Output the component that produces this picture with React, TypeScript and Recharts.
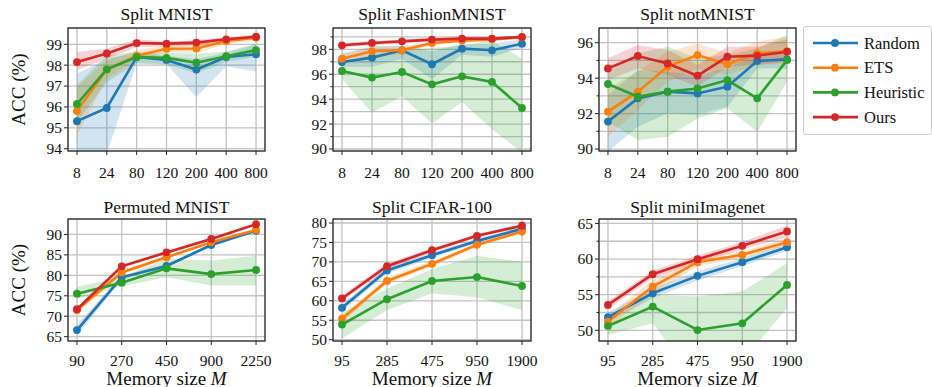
import React from 'react';
import { ComposedChart, Line, Area, XAxis, YAxis, CartesianGrid } from 'recharts';

const FONT = '"Liberation Serif", "Times New Roman", "DejaVu Serif", serif';

// memory sizes (x categories)
const smallMem = ['8', '24', '80', '120', '200', '400', '800'];
const permMem = ['90', '270', '450', '900', '2250'];
const largeMem = ['95', '285', '475', '950', '1900'];

// Split MNIST
const mnistRandom = [95.32, 95.95, 98.39, 98.25, 97.79, 98.39, 98.52];
const mnistRandomLo = [93.0, 93.75, 98.1, 98.05, 96.48, 97.95, 97.7];
const mnistRandomHi = [97.6, 98.3, 98.6, 98.45, 98.3, 98.6, 99.0];
const mnistEts = [95.81, 97.79, 98.45, 98.79, 98.8, 99.16, 99.32];
const mnistEtsLo = [94.65, 97.36, 98.2, 98.6, 98.6, 99.0, 99.18];
const mnistEtsHi = [96.96, 98.23, 98.7, 98.95, 99.0, 99.3, 99.45];
const mnistHeur = [96.14, 97.8, 98.39, 98.35, 98.12, 98.43, 98.72];
const mnistHeurLo = [95.28, 97.2, 98.07, 98.03, 97.6, 98.15, 98.4];
const mnistHeurHi = [97.04, 98.47, 98.63, 98.6, 98.55, 98.66, 99.03];
const mnistOurs = [98.15, 98.56, 99.06, 99.03, 99.08, 99.24, 99.36];
const mnistOursLo = [97.76, 98.3, 98.87, 98.9, 98.95, 99.12, 99.25];
const mnistOursHi = [98.63, 98.8, 99.24, 99.15, 99.2, 99.35, 99.47];

// Split FashionMNIST
const fashionRandom = [96.98, 97.33, 97.92, 96.8, 98.05, 97.92, 98.45];
const fashionRandomLo = [96.58, 96.6, 97.25, 95.6, 97.57, 97.4, 98.1];
const fashionRandomHi = [97.65, 98.2, 98.3, 97.84, 98.45, 98.45, 98.8];
const fashionEts = [97.25, 97.84, 97.92, 98.51, 98.7, 98.8, 98.96];
const fashionEtsLo = [96.85, 97.45, 97.6, 98.35, 98.55, 98.65, 98.82];
const fashionEtsHi = [97.65, 98.25, 98.25, 98.67, 98.85, 98.95, 99.1];
const fashionHeur = [96.26, 95.73, 96.18, 95.19, 95.83, 95.38, 93.29];
const fashionHeurLo = [95.6, 92.9, 94.23, 92.04, 93.78, 91.6, 89.7];
const fashionHeurHi = [96.85, 97.6, 97.9, 98.1, 98.3, 98.7, 97.25];
const fashionOurs = [98.32, 98.51, 98.64, 98.78, 98.86, 98.86, 98.99];
const fashionOursLo = [98.15, 98.35, 98.5, 98.65, 98.75, 98.75, 98.88];
const fashionOursHi = [98.5, 98.67, 98.78, 98.9, 98.97, 98.97, 99.1];

// Split notMNIST
const notRandom = [91.55, 92.86, 93.24, 93.14, 93.52, 94.97, 95.06];
const notRandomLo = [89.85, 91.26, 92.02, 91.92, 92.39, 94.55, 94.55];
const notRandomHi = [93.05, 94.46, 94.36, 94.18, 94.55, 95.4, 95.49];
const notEts = [92.11, 93.24, 94.65, 95.3, 94.78, 95.4, 95.53];
const notEtsLo = [90.7, 92.2, 93.8, 94.55, 94.18, 94.74, 94.83];
const notEtsHi = [93.42, 94.36, 95.5, 95.96, 95.4, 96.06, 96.34];
const notHeur = [93.67, 92.95, 93.24, 93.42, 93.89, 92.86, 95.02];
const notHeurLo = [91.55, 90.51, 90.7, 91.73, 92.3, 90.98, 93.8];
const notHeurHi = [94.46, 95.4, 95.77, 95.12, 95.3, 95.68, 96.43];
const notOurs = [94.55, 95.25, 94.83, 94.14, 95.21, 95.27, 95.49];
const notOursLo = [93.9, 94.55, 94.18, 93.52, 94.65, 94.74, 94.93];
const notOursHi = [95.12, 95.87, 95.59, 94.74, 95.77, 95.77, 96.2];

// Permuted MNIST
const permRandom = [66.6, 79.5, 82.3, 87.4, 90.9];
const permRandomLo = [65.3, 79.0, 81.9, 87.0, 90.6];
const permRandomHi = [68.0, 80.0, 82.7, 87.8, 91.2];
const permEts = [71.5, 80.7, 84.4, 88.1, 91.1];
const permEtsLo = [70.9, 80.2, 84.0, 87.8, 90.8];
const permEtsHi = [72.2, 81.2, 84.8, 88.4, 91.4];
const permHeur = [75.5, 78.2, 81.7, 80.3, 81.3];
const permHeurLo = [74.2, 77.3, 79.5, 77.5, 77.5];
const permHeurHi = [77.2, 79.6, 84.0, 83.6, 84.8];
const permOurs = [71.7, 82.2, 85.6, 88.9, 92.5];
const permOursLo = [71.2, 81.8, 85.2, 88.6, 92.2];
const permOursHi = [72.2, 82.6, 86.0, 89.2, 92.8];

// Split CIFAR-100
const cifarRandom = [58.2, 67.8, 71.7, 75.4, 78.5];
const cifarRandomLo = [57.3, 67.0, 71.0, 74.8, 78.0];
const cifarRandomHi = [59.1, 68.6, 72.4, 76.0, 79.0];
const cifarEts = [55.4, 65.1, 69.5, 74.4, 77.8];
const cifarEtsLo = [54.5, 64.3, 68.8, 73.8, 77.3];
const cifarEtsHi = [56.3, 65.9, 70.2, 75.0, 78.3];
const cifarHeur = [53.9, 60.4, 65.1, 66.1, 63.8];
const cifarHeurLo = [50.3, 57.6, 61.9, 60.9, 57.6];
const cifarHeurHi = [56.8, 63.1, 68.2, 71.6, 70.1];
const cifarOurs = [60.6, 68.9, 73.0, 76.7, 79.3];
const cifarOursLo = [59.8, 68.2, 72.4, 76.2, 78.9];
const cifarOursHi = [61.4, 69.6, 73.6, 77.2, 79.7];

// Split miniImagenet
const miniRandom = [51.83, 55.2, 57.64, 59.56, 61.67];
const miniRandomLo = [51.2, 54.5, 57.0, 59.0, 61.1];
const miniRandomHi = [52.5, 55.9, 58.3, 60.1, 62.2];
const miniEts = [51.22, 56.14, 59.56, 60.59, 62.37];
const miniEtsLo = [50.4, 55.1, 59.0, 60.1, 61.9];
const miniEtsHi = [52.0, 57.1, 60.1, 61.1, 62.9];
const miniHeur = [50.61, 53.33, 50.04, 50.98, 56.37];
const miniHeurLo = [49.34, 50.98, 42.7, 45.7, 53.1];
const miniHeurHi = [51.2, 54.97, 54.73, 55.44, 59.42];
const miniOurs = [53.56, 57.87, 59.98, 61.86, 63.87];
const miniOursLo = [53.0, 57.3, 59.5, 61.3, 63.1];
const miniOursHi = [54.1, 58.4, 60.5, 62.4, 64.7];

const SERIES = [
  { key: 'random', name: 'Random', color: '#1f77b4' },
  { key: 'ets', name: 'ETS', color: '#ff7f0e' },
  { key: 'heur', name: 'Heuristic', color: '#2ca02c' },
  { key: 'ours', name: 'Ours', color: '#d62728' },
];

const buildRows = (labels: string[], s: number[][]) =>
  labels.map((label, i) => ({
    i,
    label,
    random: s[0][i], randomBand: [s[1][i], s[2][i]],
    ets: s[3][i], etsBand: [s[4][i], s[5][i]],
    heur: s[6][i], heurBand: [s[7][i], s[8][i]],
    ours: s[9][i], oursBand: [s[10][i], s[11][i]],
  }));

const PANELS = [
  {
    title: 'Split MNIST', x: 68, y: 28, w: 197, h: 123, labels: smallMem, tickDy: 27,
    domain: [93.89, 99.78], grid: [94, 95, 96, 97, 98, 99], majors: [94, 95, 96, 97, 98, 99],
    rows: buildRows(smallMem, [mnistRandom, mnistRandomLo, mnistRandomHi, mnistEts, mnistEtsLo, mnistEtsHi, mnistHeur, mnistHeurLo, mnistHeurHi, mnistOurs, mnistOursLo, mnistOursHi]),
  },
  {
    title: 'Split FashionMNIST', x: 333, y: 28, w: 198, h: 123, labels: smallMem, tickDy: 27,
    domain: [89.84, 99.71], grid: [90, 91, 92, 93, 94, 95, 96, 97, 98, 99], majors: [90, 92, 94, 96, 98],
    rows: buildRows(smallMem, [fashionRandom, fashionRandomLo, fashionRandomHi, fashionEts, fashionEtsLo, fashionEtsHi, fashionHeur, fashionHeurLo, fashionHeurHi, fashionOurs, fashionOursLo, fashionOursHi]),
  },
  {
    title: 'Split notMNIST', x: 599, y: 28, w: 197, h: 123, labels: smallMem, tickDy: 27,
    domain: [89.89, 96.83], grid: [90, 91, 92, 93, 94, 95, 96], majors: [90, 92, 94, 96],
    rows: buildRows(smallMem, [notRandom, notRandomLo, notRandomHi, notEts, notEtsLo, notEtsHi, notHeur, notHeurLo, notHeurHi, notOurs, notOursLo, notOursHi]),
  },
  {
    title: 'Permuted MNIST', x: 68, y: 219, w: 197, h: 122, labels: permMem, tickDy: 25,
    domain: [63.94, 93.77], grid: [65, 70, 75, 80, 85, 90], majors: [65, 70, 75, 80, 85, 90],
    rows: buildRows(permMem, [permRandom, permRandomLo, permRandomHi, permEts, permEtsLo, permEtsHi, permHeur, permHeurLo, permHeurHi, permOurs, permOursLo, permOursHi]),
  },
  {
    title: 'Split CIFAR-100', x: 333, y: 219, w: 198, h: 122, labels: largeMem, tickDy: 25,
    domain: [49.66, 81.03], grid: [50, 55, 60, 65, 70, 75, 80], majors: [50, 55, 60, 65, 70, 75, 80],
    rows: buildRows(largeMem, [cifarRandom, cifarRandomLo, cifarRandomHi, cifarEts, cifarEtsLo, cifarEtsHi, cifarHeur, cifarHeurLo, cifarHeurHi, cifarOurs, cifarOursLo, cifarOursHi]),
  },
  {
    title: 'Split miniImagenet', x: 599, y: 219, w: 197, h: 122, labels: largeMem, tickDy: 25,
    domain: [48.5, 65.62], grid: [50, 52.5, 55, 57.5, 60, 62.5, 65], majors: [50, 55, 60, 65],
    rows: buildRows(largeMem, [miniRandom, miniRandomLo, miniRandomHi, miniEts, miniEtsLo, miniEtsHi, miniHeur, miniHeurLo, miniHeurHi, miniOurs, miniOursLo, miniOursHi]),
  },
];

const YW = 60;
const MT = 5;
const MR = 24;
const XH = 34;
const TICK_FONT = 15.5;

const Panel = ({ p }: any) => {
  const n = p.labels.length;
  const pad = (n - 1) * 0.05;
  const idx = p.labels.map((_: string, i: number) => i);
  const xTick = (props: any) => {
    const { x, y, payload } = props;
    return (
      <g>
        <line x1={x} x2={x} y1={y} y2={y + 4} stroke="#222" strokeWidth={1} />
        <text x={x} y={y + p.tickDy} textAnchor="middle" fontFamily={FONT} fontSize={TICK_FONT} fill="#111">
          {p.labels[payload.value]}
        </text>
      </g>
    );
  };
  const yTick = (props: any) => {
    const { x, y, payload } = props;
    const major = p.majors.includes(payload.value);
    return (
      <g>
        <line x1={x} x2={x - (major ? 4 : 2.5)} y1={y} y2={y} stroke="#222" strokeWidth={1} />
        {major && (
          <text x={x - 6} y={y} dy="0.35em" textAnchor="end" fontFamily={FONT} fontSize={TICK_FONT} fill="#111">
            {payload.value}
          </text>
        )}
      </g>
    );
  };
  return (
    <div style={{ position: 'absolute', left: p.x - YW, top: p.y - MT }}>
      <ComposedChart
        width={p.w + YW + MR}
        height={p.h + MT + XH}
        data={p.rows}
        margin={{ top: MT, right: MR, bottom: 0, left: 0 }}
      >
        <CartesianGrid stroke="#c2c2c2" strokeWidth={1.3} />
        <XAxis
          type="number"
          dataKey="i"
          domain={[-pad, n - 1 + pad]}
          ticks={idx}
          interval={0}
          allowDataOverflow
          height={XH}
          axisLine={false}
          tickLine={false}
          tickSize={0}
          tickMargin={0}
          tick={xTick}
        />
        <YAxis
          type="number"
          domain={p.domain}
          ticks={p.grid}
          interval={0}
          allowDataOverflow
          width={YW}
          axisLine={false}
          tickLine={false}
          tickSize={0}
          tickMargin={0}
          tick={yTick}
        />
        {SERIES.map((s) => (
          <Area
            key={s.key + 'band'}
            type="linear"
            dataKey={s.key + 'Band'}
            fill={s.color}
            fillOpacity={0.2}
            stroke="none"
            activeDot={false}
            isAnimationActive={false}
          />
        ))}
        {SERIES.map((s) => (
          <Line
            key={s.key}
            type="linear"
            dataKey={s.key}
            stroke={s.color}
            strokeWidth={2.6}
            dot={{ r: 3.9, fill: s.color, stroke: s.color, strokeWidth: 0 }}
            activeDot={false}
            isAnimationActive={false}
          />
        ))}
      </ComposedChart>
    </div>
  );
};

export default function App() {
  return (
    <div style={{ position: 'absolute', left: 0, top: 0, width: 932, height: 387, background: '#fff', overflow: 'hidden', fontFamily: FONT }}>
      {PANELS.map((p) => (
        <Panel key={p.title} p={p} />
      ))}
      <svg width={932} height={387} style={{ position: 'absolute', left: 0, top: 0, pointerEvents: 'none' }}>
        {PANELS.map((p, k) => (
          <g key={p.title}>
            <rect x={p.x} y={p.y} width={p.w} height={p.h} fill="none" stroke="#222" strokeWidth={1.2} />
            <text x={p.x + p.w / 2} y={k < 3 ? 19.5 : 213} textAnchor="middle" fontFamily={FONT} fontSize={17.5} fill="#111">
              {p.title}
            </text>
            {k >= 3 && (
              <text x={p.x + p.w / 2} y={384.5} textAnchor="middle" fontFamily={FONT} fontSize={19} fill="#111">
                Memory size <tspan fontStyle="italic">M</tspan>
              </text>
            )}
          </g>
        ))}
        <text transform="translate(25,89.5) rotate(-90)" textAnchor="middle" fontFamily={FONT} fontSize={19} fill="#111">
          ACC (%)
        </text>
        <text transform="translate(25,280) rotate(-90)" textAnchor="middle" fontFamily={FONT} fontSize={19} fill="#111">
          ACC (%)
        </text>
      </svg>
      <div
        style={{
          position: 'absolute', left: 803, top: 26, width: 127, height: 107,
          border: '1px solid #cfcfcf', borderRadius: 3, background: '#fff',
        }}
      >
        <svg width={127} height={107}>
          {SERIES.map((s, i) => {
            const cy = 16 + i * 24.7;
            return (
              <g key={s.key}>
                <line x1={9} x2={54} y1={cy} y2={cy} stroke={s.color} strokeWidth={2.6} />
                <circle cx={31} cy={cy} r={3.9} fill={s.color} />
                <text x={60} y={cy} dy="0.35em" fontFamily={FONT} fontSize={16.5} fill="#111">
                  {s.name}
                </text>
              </g>
            );
          })}
        </svg>
      </div>
    </div>
  );
}
